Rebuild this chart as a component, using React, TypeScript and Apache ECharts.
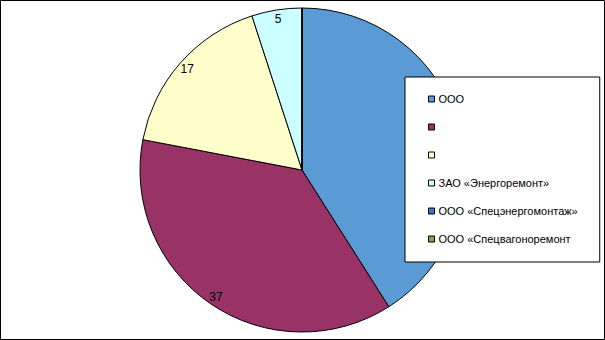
import React, { useEffect, useRef } from "react";
import * as echarts from "echarts";

const categories = [
  "ООО",
  "\u00a0",
  "\u00a0\u00a0",
  "ЗАО «Энергоремонт»",
  "ООО «Спецэнергомонтаж»",
  "ООО «Спецвагоноремонт",
];
const values = [41, 37, 17, 5, 0, 0];
const colors = ["#5B9BD5", "#993366", "#FFFFCC", "#CCFFFF", "#4472C4", "#70AD47"];

export default function App() {
  const ref = useRef<HTMLDivElement>(null);
  useEffect(() => {
    document.body.style.margin = "0";
    if (!ref.current) return;
    const chart = echarts.init(ref.current, null, { renderer: "svg" });
    const center = [302, 170];
    chart.setOption({
      animation: false,
      backgroundColor: "#fff",
      color: colors,
      graphic: [
        {
          type: "rect",
          shape: { x: 0.5, y: 0.5, width: 604, height: 339 },
          style: { fill: "none", stroke: "#000", lineWidth: 1 },
          silent: true,
        },
      ],
      legend: {
        orient: "vertical",
        left: 405,
        top: 77,
        padding: [16, 22, 17, 23],
        itemGap: 16,
        itemWidth: 6,
        itemHeight: 6,
        icon: "rect",
        backgroundColor: "#fff",
        borderColor: "#000",
        borderWidth: 1,
        borderRadius: 0,
        z: 10,
        itemStyle: { borderColor: "#000", borderWidth: 1 },
        textStyle: {
          fontFamily: "Liberation Sans, Arial, sans-serif",
          fontSize: 11,
          lineHeight: 12,
          color: "#000",
          padding: [0, 0, 0, -1],
        },
        data: categories,
        selectedMode: false,
      },
      series: [
        {
          type: "pie",
          center,
          radius: [0, 162],
          startAngle: 90,
          clockwise: true,
          label: { show: false },
          labelLine: { show: false },
          itemStyle: { borderColor: "#000", borderWidth: 1 },
          emphasis: { disabled: true },
          data: categories.map((n, i) => ({
            name: n,
            value: values[i],
            itemStyle: { color: colors[i] },
          })),
        },
        {
          type: "pie",
          center,
          radius: [138, 162],
          startAngle: 90,
          clockwise: true,
          silent: true,
          legendHoverLink: false,
          label: {
            show: true,
            position: "inside",
            fontFamily: "Liberation Sans, Arial, sans-serif",
            fontSize: 12,
            color: "#000",
            formatter: (p: any) => (p.value > 0 ? String(p.value) : ""),
          },
          labelLine: { show: false },
          itemStyle: { color: "rgba(0,0,0,0)", borderWidth: 0 },
          emphasis: { disabled: true },
          data: categories.map((n, i) => ({
            name: n,
            value: values[i],
            itemStyle: { color: "rgba(0,0,0,0)" },
          })),
        },
      ],
    });
    return () => chart.dispose();
  }, []);
  return <div ref={ref} style={{ width: 605, height: 340 }} />;
}
